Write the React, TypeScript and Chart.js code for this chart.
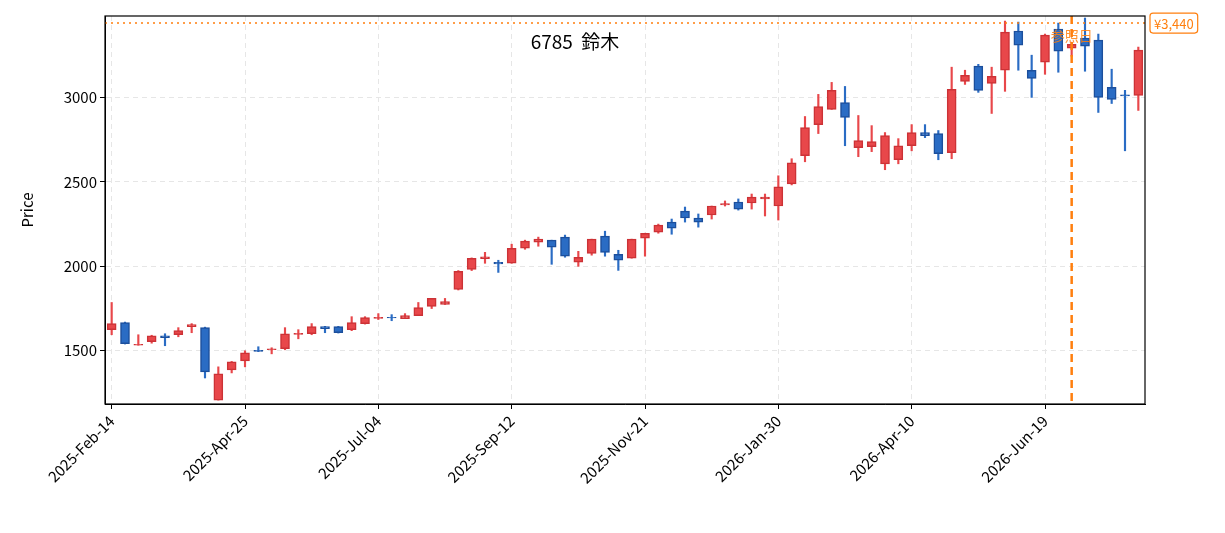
import React, { useEffect, useRef } from "react";
import { Chart, registerables } from "chart.js";
Chart.register(...registerables);

const opens = [1625,1667,1533,1554,1589,1595,1643,1637,1208,1387,1440,1502,1506,1512,1597,1601,1643,1643,1625,1661,1692,1698,1690,1708,1762,1774,1863,1982,2046,2024,2018,2107,2143,2155,2173,2024,2077,2179,2071,2048,2167,2202,2262,2327,2286,2304,2363,2381,2375,2399,2357,2488,2655,2839,2929,2970,2702,2708,2607,2631,2714,2792,2786,2673,3095,3185,3083,3161,3393,3161,3208,3405,3292,3351,3339,3059,3015,3012];
const closes = [1661,1542,1538,1589,1577,1619,1655,1375,1363,1435,1488,1497,1512,1601,1603,1643,1631,1607,1667,1696,1698,1694,1708,1756,1810,1792,1970,2048,2056,2014,2107,2149,2161,2113,2060,2054,2161,2083,2036,2161,2196,2244,2226,2286,2262,2357,2372,2339,2410,2410,2470,2613,2821,2946,3042,2881,2744,2738,2774,2714,2792,2774,2667,3048,3131,3042,3125,3387,3309,3113,3369,3274,3315,3303,3000,2988,3009,3280];
const highs = [1786,1670,1595,1592,1601,1637,1661,1640,1405,1437,1500,1524,1518,1637,1625,1661,1645,1645,1702,1702,1720,1714,1720,1786,1810,1810,1975,2050,2083,2036,2131,2155,2173,2155,2185,2089,2161,2208,2095,2161,2196,2250,2280,2351,2310,2357,2387,2399,2428,2428,2536,2637,2887,3018,3089,3065,2893,2833,2792,2756,2839,2839,2804,3179,3161,3196,3179,3452,3446,3250,3375,3440,3327,3470,3375,3167,3042,3298];
const lows = [1595,1540,1533,1545,1530,1583,1607,1339,1208,1369,1405,1495,1482,1506,1571,1595,1607,1605,1619,1658,1685,1678,1690,1708,1750,1774,1860,1975,2018,1964,2018,2101,2119,2012,2054,2000,2066,2060,1976,2048,2060,2196,2190,2262,2232,2280,2357,2333,2339,2298,2274,2482,2619,2786,2929,2714,2649,2679,2572,2607,2684,2762,2631,2637,3077,3030,2905,3036,3161,3000,3137,3149,3244,3155,2911,2964,2684,2923];
const refIndex = 72;
const refPrice = 3440;
const refLabel = "参照日";
const priceLabel = "¥3,440";
const title = "6785  鈴木";
const yTicks = [1500, 2000, 2500, 3000];

const MONTHS = ["Jan","Feb","Mar","Apr","May","Jun","Jul","Aug","Sep","Oct","Nov","Dec"];
const labels = opens.map((_, i) => {
  const d = new Date(Date.UTC(2025, 1, 14 + 7 * i));
  return `${d.getUTCFullYear()}-${MONTHS[d.getUTCMonth()]}-${String(d.getUTCDate()).padStart(2, "0")}`;
});

const UP_FILL = "#e8474a", UP_LINE = "#cc3236", DN_FILL = "#2a6cc4", DN_LINE = "#1c4f9c";
const FONT = "'Noto Sans CJK JP', 'Noto Sans', sans-serif";
const ORANGE = "#ff7f0e";

export default function App() {
  const ref = useRef<HTMLCanvasElement>(null);
  useEffect(() => {
    const up = opens.map((o, i) => closes[i] >= o);
    const overlay = {
      id: "overlay",
      afterDatasetsDraw(chart: any) {
        const { ctx, chartArea: a, scales } = chart;
        const x = scales.x.getPixelForValue(refIndex);
        const y = scales.y.getPixelForValue(refPrice);
        ctx.save();
        ctx.strokeStyle = ORANGE;
        ctx.lineWidth = 1.5;
        ctx.setLineDash([2, 4]);
        ctx.beginPath(); ctx.moveTo(a.left, y); ctx.lineTo(a.right, y); ctx.stroke();
        ctx.lineWidth = 2.5;
        ctx.setLineDash([8, 5]);
        ctx.beginPath(); ctx.moveTo(x, a.top); ctx.lineTo(x, a.bottom); ctx.stroke();
        ctx.setLineDash([]);
        ctx.fillStyle = ORANGE;
        ctx.font = `14px ${FONT}`;
        ctx.textAlign = "center"; ctx.textBaseline = "middle";
        ctx.globalAlpha = 0.85;
        ctx.fillText(refLabel, x, a.top + 20);
        ctx.globalAlpha = 1;
        ctx.fillStyle = "#000";
        ctx.font = `19px ${FONT}`;
        ctx.fillText(title, 575, a.top + 26);
        ctx.strokeStyle = "#000"; ctx.lineWidth = 1.2;
        ctx.strokeRect(a.left, a.top, a.right - a.left, a.bottom - a.top);
        ctx.font = `13px ${FONT}`;
        const w = ctx.measureText(priceLabel).width + 8;
        const bx = a.right + 5, by = y - 10;
        ctx.fillStyle = "#fff"; ctx.strokeStyle = ORANGE; ctx.lineWidth = 1.2;
        ctx.beginPath(); (ctx as any).roundRect(bx, by, w, 20, 3); ctx.fill(); ctx.stroke();
        ctx.fillStyle = ORANGE; ctx.textAlign = "left";
        ctx.fillText(priceLabel, bx + 4, y + 1);
        ctx.restore();
      },
    };
    const chart = new Chart(ref.current!, {
      type: "bar",
      data: {
        labels,
        datasets: [
          {
            data: lows.map((l, i) => [l, highs[i]]),
            backgroundColor: up.map((u) => (u ? UP_FILL : DN_FILL)),
            barThickness: 1.5,
            grouped: false,
            order: 2,
          } as any,
          {
            data: opens.map((o, i) => [o, closes[i]]),
            backgroundColor: up.map((u) => (u ? UP_FILL : DN_FILL)),
            borderColor: up.map((u) => (u ? UP_LINE : DN_LINE)),
            borderWidth: 1.5,
            borderSkipped: false,
            barThickness: 9,
            grouped: false,
            order: 1,
          } as any,
        ],
      },
      options: {
        animation: false,
        responsive: false,
        layout: { padding: { top: 16, right: 80, left: 14, bottom: 0 } },
        plugins: { legend: { display: false }, tooltip: { enabled: false } },
        scales: {
          x: {
            offset: true,
            grid: { offset: false, color: "#e6e6e6", tickColor: "#000", tickLength: 5, drawTicks: true } as any,
            border: { dash: [5, 4], color: "#000" } as any,
            ticks: {
              autoSkip: false,
              maxRotation: 45,
              minRotation: 45,
              color: "#000",
              font: { family: FONT, size: 15 },
              callback: (_v: any, i: number) => (i % 10 === 0 ? labels[i] : null),
            },
            afterFit: (s: any) => { s.height = 129; },
          },
          y: {
            min: 1185,
            max: 3482,
            grid: { color: "#e6e6e6", tickColor: "#000", tickLength: 5 },
            border: { dash: [5, 4], color: "#000" } as any,
            ticks: { color: "#000", font: { family: FONT, size: 15 }, callback: (v: any) => String(v) },
            afterBuildTicks: (s: any) => { s.ticks = yTicks.map((v) => ({ value: v })); },
            title: { display: true, text: "Price", color: "#000", font: { family: FONT, size: 15 } },
            afterFit: (s: any) => { s.width = 91; },
          },
        },
      },
      plugins: [overlay],
    });
    return () => chart.destroy();
  }, []);
  return (
    <div style={{ position: "fixed", left: 0, top: 0 }}>
      <canvas ref={ref} width={1225} height={533} style={{ width: 1225, height: 533 }} />
    </div>
  );
}
